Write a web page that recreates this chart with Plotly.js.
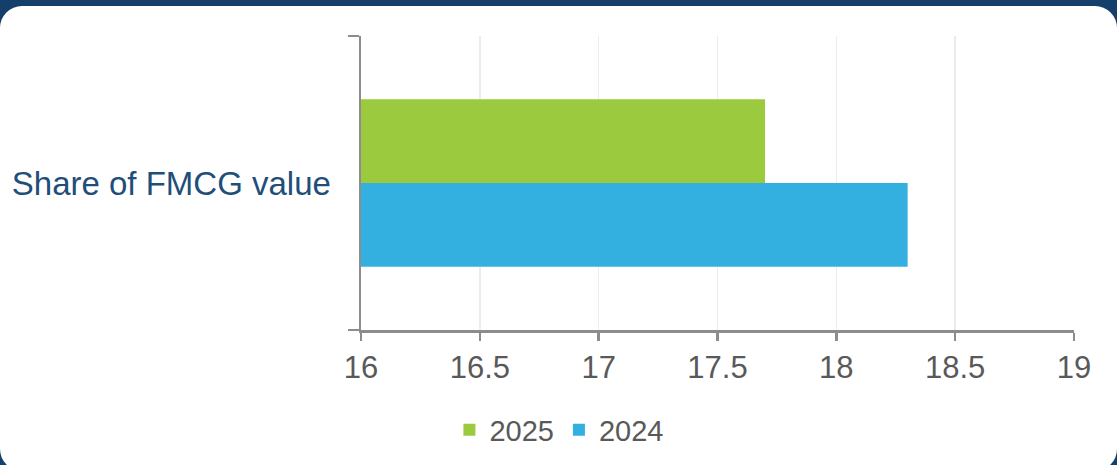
<!DOCTYPE html>
<html>
<head>
<meta charset="utf-8">
<script src="https://cdn.plot.ly/plotly-3.0.1.min.js"></script>
<style>
  html, body { margin: 0; padding: 0; width: 1117px; height: 465px; overflow: hidden; background: #143f6b; }
  #wrap { position: absolute; left: 0; top: 6px; width: 1117px; height: 465px; background: #ffffff; border-radius: 22px; overflow: hidden; }
  #chart { width: 1117px; height: 465px; }
</style>
</head>
<body>
<div id="wrap"><div id="chart"></div></div>
<script>
const categories = ["Share of FMCG value"];
const seriesNames = ["2025", "2024"];
const values2025 = [17.7];
const values2024 = [18.3];
const xTickVals = [16, 16.5, 17, 17.5, 18, 18.5, 19];
const xTickText = ["16", "16.5", "17", "17.5", "18", "18.5", "19"];

const FONT = "Liberation Sans, Arial, sans-serif";

const traces = [
  { type: "bar", orientation: "h", name: seriesNames[1], y: categories, x: values2024,
    marker: { color: "#33b0e0" }, hoverinfo: "x+name" },
  { type: "bar", orientation: "h", name: seriesNames[0], y: categories, x: values2025,
    marker: { color: "#9bca3e" }, hoverinfo: "x+name" }
];

const layout = {
  width: 1117, height: 465,
  margin: { l: 361, r: 43, t: 30, b: 141, pad: 0 },
  paper_bgcolor: "rgba(0,0,0,0)", plot_bgcolor: "rgba(0,0,0,0)",
  barmode: "group", bargap: 0.43, bargroupgap: 0,
  font: { family: FONT, color: "#595959" },
  xaxis: {
    range: [16, 19], tickvals: xTickVals, ticktext: xTickText,
    showgrid: true, gridcolor: "#ececec", gridwidth: 1.5,
    showline: true, linecolor: "#8c8c8c", linewidth: 2.5,
    ticks: "outside", ticklen: 8, tickwidth: 2.5, tickcolor: "#8c8c8c",
    tickfont: { size: 31, color: "#595959", family: FONT },
    zeroline: false, fixedrange: true
  },
  yaxis: {
    type: "category", range: [-0.5, 0.5],
    showline: true, linecolor: "#8c8c8c", linewidth: 2.5,
    ticks: "outside", tickson: "boundaries", ticklen: 11, tickwidth: 2.5, tickcolor: "#8c8c8c",
    tickfont: { size: 33, color: "#1f4e79", family: FONT },
    showgrid: false, zeroline: false, fixedrange: true, ticklabelstandoff: 21
  },
  showlegend: true,
  legend: {
    orientation: "h", traceorder: "reversed",
    x: 0.124, xanchor: "left", y: -0.34, yanchor: "middle",
    font: { size: 29, color: "#595959", family: FONT },
    itemwidth: 30, itemsizing: "constant", bgcolor: "rgba(0,0,0,0)"
  }
};

Plotly.newPlot("chart", traces, layout, { displayModeBar: false, staticPlot: true });
</script>
</body>
</html>
